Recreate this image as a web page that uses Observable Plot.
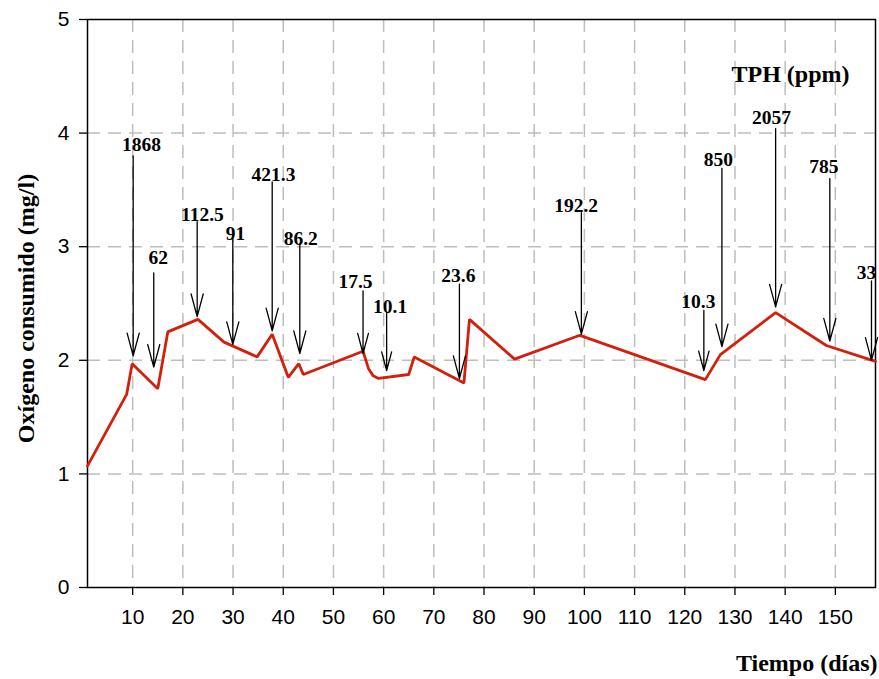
<!DOCTYPE html>
<html>
<head>
<meta charset="utf-8">
<script src="https://cdn.jsdelivr.net/npm/d3@7"></script>
<script src="https://cdn.jsdelivr.net/npm/@observablehq/plot@0.6"></script>
<style>
  html, body { margin: 0; padding: 0; background: #fff; }
</style>
</head>
<body>
<div id="chart"></div>
<script>
// Oxygen consumption curve (day, mg/l)
const days   = [1, 8.8, 9.9, 15.0, 17.0, 23.0, 28.2, 34.8, 37.8, 41.0, 43.1, 44.0, 55.9, 57.0, 57.9, 59.0, 65.0, 66.1, 76.0, 77.1, 86.1, 99.1, 124.1, 127.1, 138.1, 148.2, 158];
const oxygen = [1.07, 1.70, 1.97, 1.75, 2.25, 2.36, 2.16, 2.03, 2.23, 1.85, 1.97, 1.875, 2.08, 1.925, 1.865, 1.84, 1.875, 2.03, 1.80, 2.36, 2.01, 2.22, 1.83, 2.05, 2.42, 2.13, 1.99];

// TPH annotations (ppm) with their arrows
const tphLabels = ["1868", "62", "112.5", "91", "421.3", "86.2", "17.5", "10.1", "23.6", "192.2", "10.3", "850", "2057", "785", "33"];
const arrowDay  = [10.1, 14.2, 22.85, 29.95, 37.8, 43.3, 55.9, 60.6, 75.1, 99.4, 123.8, 127.4, 138.1, 148.9, 157.2];
const arrowTop  = [3.80, 2.77, 3.22, 3.10, 3.57, 3.03, 2.61, 2.42, 2.67, 3.30, 2.44, 3.69, 4.04, 3.60, 2.70];
const arrowTip  = [2.04, 1.94, 2.385, 2.14, 2.26, 2.06, 2.06, 1.91, 1.84, 2.23, 1.91, 2.12, 2.47, 2.17, 2.00];
const labelDay  = [11.76, 15.1, 23.9, 30.5, 38.05, 43.5, 54.4, 61.3, 74.9, 98.35, 122.7, 126.7, 137.3, 147.7, 156.2];
const labelY    = [3.83, 2.843, 3.216, 3.05, 3.568, 3.01, 2.63, 2.41, 2.68, 3.30, 2.45, 3.70, 4.067, 3.64, 2.71];

const xTicks = [10, 20, 30, 40, 50, 60, 70, 80, 90, 100, 110, 120, 130, 140, 150];
const yTicks = [0, 1, 2, 3, 4, 5];
const yGrid  = [1, 2, 3, 4];

const xTitle = "Tiempo (días)";
const yTitle = "Oxígeno consumido (mg/l)";
const legendTitle = "TPH (ppm)";

const lineData = days.map((d, i) => ({day: d, oxygen: oxygen[i]}));
const arrowData = tphLabels.map((t, i) => ({
  label: t, day: arrowDay[i], top: arrowTop[i], tip: arrowTip[i], labelDay: labelDay[i], labelY: labelY[i]
}));

const serif = "'Liberation Serif', 'Times New Roman', serif";
const gridStyle = {stroke: "#bdbdbd", strokeOpacity: 1, strokeWidth: 1.5, strokeDasharray: "13,8"};

const chart = Plot.plot({
  width: 879,
  height: 679,
  marginLeft: 87,
  marginRight: 4,
  marginTop: 19,
  marginBottom: 92,
  style: {fontFamily: "'Liberation Sans', Arial, sans-serif", fontSize: "21px", color: "black", background: "white"},
  x: {domain: [1, 158]},
  y: {domain: [0, 5]},
  marks: [
    Plot.gridX(xTicks, gridStyle),
    Plot.gridY(yGrid, gridStyle),
    Plot.frame({stroke: "black", strokeWidth: 1.5}),
    Plot.axisX(xTicks, {tickSize: 8, tickPadding: 14, label: null, fontSize: 21, tickFormat: "d", strokeWidth: 1.3}),
    Plot.axisY(yTicks, {tickSize: 8, tickPadding: 10, label: null, fontSize: 21, tickFormat: "d", strokeWidth: 1.3}),
    Plot.line(lineData, {x: "day", y: "oxygen", stroke: "#d2200c", strokeWidth: 2.8, strokeLinejoin: "miter"}),
    Plot.arrow(arrowData, {x1: "day", x2: "day", y1: "top", y2: "tip", stroke: "black", strokeWidth: 1.3, headAngle: 30, headLength: 27}),
    Plot.text(arrowData, {x: "labelDay", y: "labelY", text: "label", lineAnchor: "bottom", dy: -1, fontWeight: "bold", fontFamily: serif, fontSize: 19.5, fill: "black"}),
    Plot.text([legendTitle], {frameAnchor: "top-right", textAnchor: "end", lineAnchor: "bottom", dx: -26, dy: 62, fontWeight: "bold", fontFamily: serif, fontSize: 24, fill: "black"}),
    Plot.text([yTitle], {frameAnchor: "left", textAnchor: "middle", rotate: -90, dx: -61, dy: 5, fontWeight: "bold", fontFamily: serif, fontSize: 24, fill: "black"}),
    Plot.text([xTitle], {frameAnchor: "bottom-right", textAnchor: "end", lineAnchor: "bottom", dx: 2, dy: 83, fontWeight: "bold", fontFamily: serif, fontSize: 24, fill: "black"})
  ]
});
document.getElementById("chart").appendChild(chart);
</script>
</body>
</html>
